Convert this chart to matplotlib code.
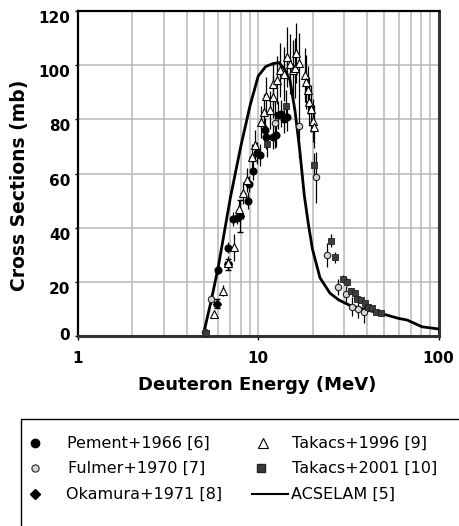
import matplotlib
matplotlib.use('Agg')
import matplotlib.pyplot as plt
from matplotlib.lines import Line2D
from matplotlib.patches import Rectangle
from matplotlib.ticker import NullFormatter, LogLocator

# ---------------- data ----------------
acselam_E = [5.0, 5.5, 6.0, 7.0, 8.0, 9.0, 10.0, 11.0, 12.0, 13.0, 14.0, 15.0, 16.0,
             17.0, 18.0, 19.0, 20.0, 22.0, 25.0, 28.0, 32.0, 40.0, 47.0, 60.0, 67.0,
             81.0, 100.0]
acselam_y = [1.5, 13.5, 25.5, 51.0, 70.0, 85.0, 96.0, 99.5, 100.5, 101.0, 98.5, 94.5, 83.0,
             68.5, 52.0, 41.0, 32.0, 21.5, 15.8, 13.3, 11.4, 9.6, 8.5, 6.5, 5.9,
             3.4, 2.6]

pement_E = [6.0, 6.82, 7.27, 7.6, 8.8, 8.85, 9.3, 9.8, 10.2, 10.9, 11.0, 12.1, 12.6,
            12.9, 13.4, 13.9, 14.4]
pement_y = [24.4, 32.6, 43.2, 43.7, 50.0, 56.0, 61.0, 67.5, 66.8, 76.0, 73.5, 73.6, 74.2,
            81.6, 82.0, 80.0, 80.8]
pement_err = [1.5, 2.0, 2.5, 2.5, 3.0, 3.0, 3.5, 4.0, 4.0, 4.5, 4.5, 4.5, 4.5,
              5.0, 5.0, 5.0, 5.0]

fulmer_E = [5.07, 5.5, 12.4, 16.9, 21.0, 24.0, 27.6, 30.6, 33.2, 35.7, 38.5]
fulmer_y = [1.6, 13.5, 78.5, 77.7, 58.6, 30.0, 18.0, 15.5, 10.8, 10.1, 8.7]
fulmer_err = [0.5, 1.5, 9.0, 12.0, 9.5, 4.5, 3.0, 3.0, 3.5, 3.5, 4.0]

okamura_E = [5.88, 6.8, 7.94]
okamura_y = [12.0, 26.5, 44.3]
okamura_xerr = [0.2, 0.25, 0.3]
okamura_err = [1.5, 2.0, 6.0]

takacs96_E = [5.68, 6.35, 6.82, 7.37, 7.85, 8.25, 8.7, 9.2, 9.65, 10.4, 10.75, 11.1,
              11.6, 12.0, 12.1, 12.7, 13.2, 13.9, 14.5, 15.0, 15.6, 16.0, 16.3, 16.9,
              18.1, 18.4, 18.8, 19.2, 19.6, 20.0, 20.4]
takacs96_y = [8.1, 16.7, 27.0, 32.7, 46.8, 52.7, 57.5, 66.0, 70.4, 79.0, 82.8, 88.7,
              83.5, 93.0, 88.4, 94.5, 98.2, 96.7, 103.0, 100.4, 98.2, 98.9, 104.4, 100.7,
              96.4, 93.9, 90.8, 86.5, 84.0, 79.5, 77.3]
takacs96_err = [1.0, 2.0, 2.5, 5.0, 3.5, 4.0, 4.5, 5.0, 5.5, 6.0, 6.5, 7.0,
                7.0, 8.0, 8.0, 9.0, 10.0, 10.0, 11.0, 11.0, 11.0, 11.0, 11.0, 11.0,
                10.0, 10.0, 9.0, 9.0, 8.5, 8.0, 8.0]
takacs96_xerr = [0.0, 0.0, 0.3, 0.0, 0.0, 0.3, 0.0, 0.3, 0.0, 0.0, 0.0, 0.0,
                 0.0, 0.0, 0.0, 0.0, 0.0, 0.0, 0.0, 0.0, 0.0, 0.0, 0.0, 0.0,
                 0.0, 0.0, 0.0, 0.0, 0.0, 0.0, 0.0]

takacs01_E = [5.13, 11.2, 14.3, 20.4, 25.2, 26.7, 29.6, 31.2, 32.6, 34.2, 35.2, 37.0,
              39.0, 40.8, 42.9, 45.2, 47.9]
takacs01_y = [1.0, 71.0, 85.0, 63.0, 35.2, 29.0, 21.0, 19.8, 16.7, 15.9, 13.7, 13.3,
              12.1, 10.8, 10.2, 9.0, 8.6]
takacs01_err = [0.3, 5.0, 6.0, 4.5, 2.5, 2.0, 1.5, 1.5, 1.2, 1.2, 1.0, 1.0,
                0.9, 0.8, 0.8, 0.7, 0.7]

x_ticks = [1, 10, 100]
x_ticklabels = ['1', '10', '100']
y_ticks = [0, 20, 40, 60, 80, 100, 120]
y_ticklabels = ['0', '20', '40', '60', '80', '100', '120']

legend_labels = ['Pement+1966 [6]', 'Fulmer+1970 [7]', 'Okamura+1971 [8]',
                 'Takacs+1996 [9]', 'Takacs+2001 [10]', 'ACSELAM [5]']

# ---------------- figure ----------------
W, H = 459, 526
fig = plt.figure(figsize=(W / 100, H / 100), dpi=100)
fig.patch.set_facecolor('white')
ax = fig.add_axes([78 / W, 1 - 336 / H, (438.5 - 78) / W, 325 / H])

ax.set_xscale('log')
ax.set_xlim(1, 100)
ax.set_ylim(0, 120)

gridc = '#b8b8b8'
ax.set_axisbelow(True)
ax.xaxis.set_minor_locator(LogLocator(base=10, subs=range(2, 10)))
ax.xaxis.set_minor_formatter(NullFormatter())
ax.grid(which='both', axis='x', color=gridc, lw=1.1)
ax.grid(which='major', axis='y', color=gridc, lw=1.1)

# theory curve
ax.plot(acselam_E, acselam_y, color='black', lw=2.0, zorder=3)

ekw = dict(ecolor='black', elinewidth=0.9, capsize=0, zorder=4, ls='none')
ax.errorbar(pement_E, pement_y, yerr=pement_err, fmt='o', ms=4.8, mfc='black',
            mec='black', **ekw)
ax.errorbar(fulmer_E, fulmer_y, yerr=fulmer_err, fmt='o', ms=4.6, mfc='#d4d4d4',
            mec='#222222', mew=0.8, **ekw)
ax.errorbar(okamura_E, okamura_y, yerr=okamura_err, xerr=okamura_xerr, fmt='D', ms=4.0,
            mfc='black', mec='black', ecolor='black', elinewidth=0.9, capsize=2.5,
            zorder=4, ls='none')
ax.errorbar(takacs96_E, takacs96_y, yerr=takacs96_err, xerr=takacs96_xerr, fmt='^',
            ms=5.6, mfc='white', mec='black', mew=0.8, **ekw)
ax.errorbar(takacs01_E, takacs01_y, yerr=takacs01_err, fmt='s', ms=4.5, mfc='#3c3c3c',
            mec='#222222', mew=0.6, **ekw)

# spines
for s in ['left', 'top']:
    ax.spines[s].set_color('black')
    ax.spines[s].set_linewidth(1.6)
for s in ['bottom', 'right']:
    ax.spines[s].set_color('#333333')
    ax.spines[s].set_linewidth(2.2)

# ticks
ax.set_xticks(x_ticks)
ax.set_xticklabels(x_ticklabels, fontsize=11, fontweight='bold')
ax.set_yticks(y_ticks)
ax.set_yticklabels(y_ticklabels, fontsize=11, fontweight='bold')
ax.tick_params(axis='x', which='major', direction='out', length=3, width=1, pad=7.5)
ax.tick_params(axis='x', which='minor', length=0)
ax.tick_params(axis='y', which='major', direction='out', length=2.5, width=1, pad=3.2)
for lab in ax.get_yticklabels():
    lab.set_verticalalignment('top')
ax.get_yticklabels()[0].set_verticalalignment('center')

ax.set_xlabel('Deuteron Energy (MeV)', fontsize=13, fontweight='bold', va='center')
ax.xaxis.set_label_coords(0.4965, -0.151)
ax.set_ylabel('Cross Sections (mb)', fontsize=13.5, fontweight='bold', va='center',
              ha='center')
ax.yaxis.set_label_coords(-0.162, 0.465)

# ---------------- legend (manual box) ----------------
def fx(x):
    return x / W


def fy(y):
    return 1 - y / H


fig.add_artist(Rectangle((fx(21), fy(560)), fx(480), 1 - fy(560) - (1 - fy(419)),
                         transform=fig.transFigure, fill=False, edgecolor='black',
                         lw=1.0, clip_on=False))

rows = [443, 468, 494]
tk = dict(transform=fig.transFigure, fontsize=11.5, va='center', ha='left')
# left column
fig.add_artist(Line2D([fx(35)], [fy(rows[0])], marker='o', ms=6.0, mfc='black',
                      mec='black', ls='none', transform=fig.transFigure))
fig.add_artist(Line2D([fx(35)], [fy(rows[1])], marker='o', ms=5.2, mfc='#d4d4d4',
                      mec='#222222', mew=0.8, ls='none', transform=fig.transFigure))
fig.add_artist(Line2D([fx(35)], [fy(rows[2])], marker='D', ms=5.0, mfc='black',
                      mec='black', ls='none', transform=fig.transFigure))
fig.text(fx(67), fy(rows[0]), legend_labels[0], **tk)
fig.text(fx(68), fy(rows[1]), legend_labels[1], **tk)
fig.text(fx(66), fy(rows[2]), legend_labels[2], **tk)
# right column
fig.add_artist(Line2D([fx(263)], [fy(rows[0])], marker='^', ms=7.0, mfc='white',
                      mec='black', mew=0.8, ls='none', transform=fig.transFigure))
fig.add_artist(Line2D([fx(261)], [fy(rows[1])], marker='s', ms=5.5, mfc='#3c3c3c',
                      mec='#222222', ls='none', transform=fig.transFigure))
fig.add_artist(Line2D([fx(252), fx(288)], [fy(rows[2]), fy(rows[2])], color='black',
                      lw=1.5, transform=fig.transFigure))
fig.text(fx(292), fy(rows[0]), legend_labels[3], **tk)
fig.text(fx(292), fy(rows[1]), legend_labels[4], **tk)
fig.text(fx(291), fy(rows[2]), legend_labels[5], **tk)

fig.savefig('out.png', dpi=100, facecolor='white')
